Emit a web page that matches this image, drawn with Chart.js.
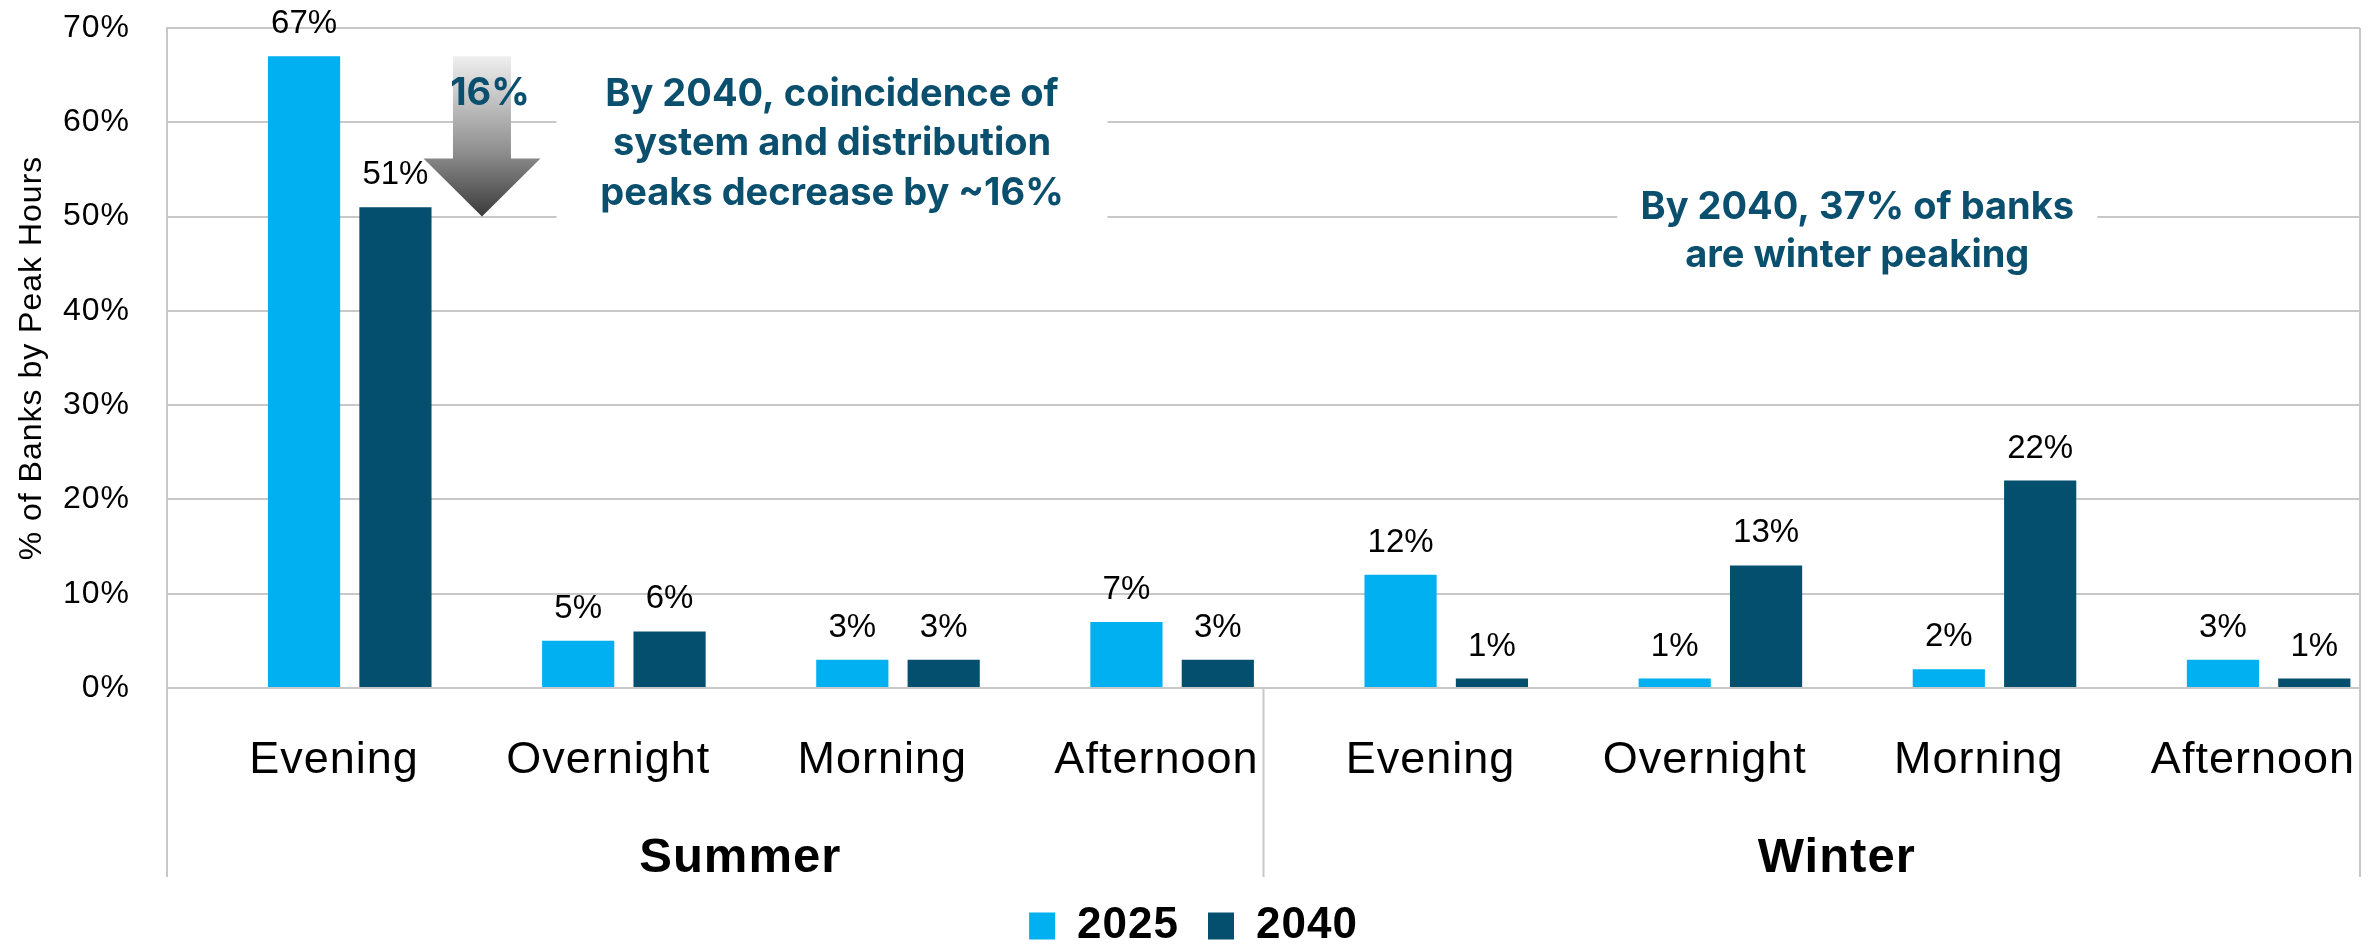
<!DOCTYPE html>
<html>
<head>
<meta charset="utf-8">
<script src="https://cdn.jsdelivr.net/npm/chart.js@4.4.1/dist/chart.umd.min.js"></script>
<style>
  html, body { margin: 0; padding: 0; background: #ffffff; }
  #wrap { width: 2379px; height: 945px; }
</style>
</head>
<body>
<div id="wrap"><canvas id="peaks" width="2379" height="945"></canvas></div>
<script>
// Peak-hour categories, grouped by season
const categories = ['Evening', 'Overnight', 'Morning', 'Afternoon', 'Evening', 'Overnight', 'Morning', 'Afternoon'];
const seasons = ['Summer', 'Winter'];

// Share of banks (%) peaking in each window
const share2025 = [67, 5, 3, 7, 12, 1, 2, 3];
const share2040 = [51, 6, 3, 3, 1, 13, 22, 1];

// Value-axis tick labels
const yTickLabels = ['0%', '10%', '20%', '30%', '40%', '50%', '60%', '70%'];

// Callout texts
const summerNote = ['By 2040, coincidence of', 'system and distribution', 'peaks decrease by ~16%'];
const winterNote = ['By 2040, 37% of banks', 'are winter peaking'];
const dropLabel = '16%';

const GRID = '#c8c8c8';
const TEAL = '#0b4f6e';
const NOTE_FONT = 'bold 38px Inter, "Liberation Sans", Arial, sans-serif';

Chart.defaults.font.family = '"Liberation Sans", Arial, Helvetica, sans-serif';
Chart.defaults.color = '#000000';

// Slightly tracked lettering for axis text and legend
const axisTracking = {
  id: 'axisTracking',
  beforeDraw(chart) { chart.ctx.letterSpacing = '1px'; },
  beforeDatasetsDraw(chart) { chart.ctx.letterSpacing = '0px'; }
};

// Percent labels above each visible bar
const valueLabels = {
  id: 'valueLabels',
  afterDatasetsDraw(chart) {
    const ctx = chart.ctx;
    ctx.save();
    ctx.font = '33px "Liberation Sans", Arial, sans-serif';
    ctx.fillStyle = '#000000';
    ctx.textAlign = 'center';
    ctx.textBaseline = 'alphabetic';
    chart.data.datasets.forEach((ds, i) => {
      if (!ds.showValues) return;
      chart.getDatasetMeta(i).data.forEach((bar, j) => {
        const v = ds.data[j];
        if (v == null) return;
        ctx.fillText(v + '%', bar.x, bar.y - 23);
      });
    });
    ctx.restore();
  }
};

// Season divider lines below the baseline, plus the right frame edge
const seasonDividers = {
  id: 'seasonDividers',
  afterDraw(chart) {
    const { ctx, chartArea } = chart;
    const x = chart.scales.x;
    const s = chart.scales.season;
    const bottom = s.bottom + 2;
    ctx.save();
    ctx.strokeStyle = GRID;
    ctx.lineWidth = 2;
    ctx.beginPath();
    ctx.moveTo(x.left, chartArea.bottom);
    ctx.lineTo(x.left, bottom);
    const mid = x.getPixelForValue(3.5);
    ctx.moveTo(mid, chartArea.bottom);
    ctx.lineTo(mid, bottom);
    ctx.moveTo(x.right, chartArea.top);
    ctx.lineTo(x.right, bottom);
    ctx.stroke();
    ctx.restore();
  }
};

// Callout boxes and the downward arrow
const callouts = {
  id: 'callouts',
  afterDatasetsDraw(chart) {
    const { ctx } = chart;
    const x = chart.scales.x;
    const y = chart.scales.y;

    function note(lines, cx, cy, boxW, boxH, lineGap) {
      ctx.fillStyle = '#ffffff';
      ctx.fillRect(cx - boxW / 2, cy - boxH / 2, boxW, boxH);
      ctx.fillStyle = TEAL;
      ctx.font = NOTE_FONT;
      ctx.textAlign = 'center';
      ctx.textBaseline = 'middle';
      const first = cy - (lines.length - 1) * lineGap / 2;
      lines.forEach((t, k) => ctx.fillText(t, cx, first + k * lineGap));
    }

    ctx.save();
    note(summerNote, x.getPixelForValue(1.926), y.getPixelForValue(57.7), 551, 174, 49.5);
    note(winterNote, x.getPixelForValue(5.666), y.getPixelForValue(48.4), 480, 106, 48);

    // Arrow from the 2025 evening level down toward the 2040 level
    const ax = x.getPixelForValue(0.649);
    const top = y.getPixelForValue(67);
    const tip = y.getPixelForValue(50);
    const headTop = tip - 58;
    const shaftHalf = 29, headHalf = 58.5;
    const grad = ctx.createLinearGradient(0, top, 0, tip);
    grad.addColorStop(0, '#efefef');
    grad.addColorStop(0.6, '#8e8e8e');
    grad.addColorStop(1, '#3a3a3a');
    ctx.fillStyle = grad;
    ctx.beginPath();
    ctx.moveTo(ax - shaftHalf, top);
    ctx.lineTo(ax + shaftHalf, top);
    ctx.lineTo(ax + shaftHalf, headTop);
    ctx.lineTo(ax + headHalf, headTop);
    ctx.lineTo(ax, tip);
    ctx.lineTo(ax - headHalf, headTop);
    ctx.lineTo(ax - shaftHalf, headTop);
    ctx.closePath();
    ctx.fill();

    ctx.fillStyle = TEAL;
    ctx.font = NOTE_FONT;
    ctx.textAlign = 'center';
    ctx.textBaseline = 'middle';
    ctx.fillText(dropLabel, ax + 8, y.getPixelForValue(63));
    ctx.restore();
  }
};

new Chart(document.getElementById('peaks'), {
  type: 'bar',
  data: {
    labels: categories,
    datasets: [
      // empty leading slot in each cluster
      { label: '', data: categories.map(() => null), backgroundColor: 'rgba(0,0,0,0)', showValues: false },
      { label: '2025', data: share2025, backgroundColor: '#00b0f0', showValues: true },
      { label: '2040', data: share2040, backgroundColor: '#044e6e', showValues: true }
    ]
  },
  options: {
    responsive: false,
    animation: false,
    devicePixelRatio: 1,
    layout: { padding: { top: 28, right: 0, left: 0, bottom: 0 } },
    datasets: { bar: { barPercentage: 0.79, categoryPercentage: 1.0 } },
    scales: {
      x: {
        type: 'category',
        position: 'bottom',
        offset: true,
        grid: { display: false },
        border: { display: true, color: GRID, width: 2 },
        ticks: {
          font: { size: 45, lineHeight: 1.2 },
          color: '#000000',
          padding: 38,
          labelOffset: 30,
          maxRotation: 0,
          autoSkip: false
        },
        afterFit(s) {
          s.height = 102;
          s.paddingRight = 19;
        }
      },
      season: {
        type: 'category',
        labels: seasons,
        position: 'bottom',
        offset: true,
        weight: 1,
        grid: { display: false },
        border: { display: false },
        ticks: {
          font: { size: 49, weight: 'bold', lineHeight: 1.2 },
          color: '#000000',
          padding: 31,
          labelOffset: 25,
          maxRotation: 0,
          autoSkip: false
        },
        afterFit(s) { s.height = 85; }
      },
      y: {
        min: 0,
        max: 70,
        ticks: {
          stepSize: 10,
          padding: 37,
          font: { size: 32 },
          color: '#000000',
          callback: (v, i) => yTickLabels[i]
        },
        grid: { color: GRID, lineWidth: 2, drawTicks: false },
        border: { color: GRID, width: 2 },
        title: {
          display: true,
          text: '% of Banks by Peak Hours',
          font: { size: 32 },
          color: '#000000',
          padding: { top: 13, bottom: 0 }
        },
        afterFit(s) {
          s.width = 167;
          s.paddingTop = 0;
          s.paddingBottom = 0;
        }
      }
    },
    plugins: {
      legend: {
        position: 'bottom',
        maxHeight: 70,
        labels: {
          font: { size: 44, weight: 'bold' },
          color: '#000000',
          boxWidth: 26,
          boxHeight: 27,
          padding: 29,
          filter: item => item.datasetIndex !== 0
        }
      },
      tooltip: { enabled: false }
    }
  },
  plugins: [axisTracking, valueLabels, callouts, seasonDividers]
});
</script>
</body>
</html>
